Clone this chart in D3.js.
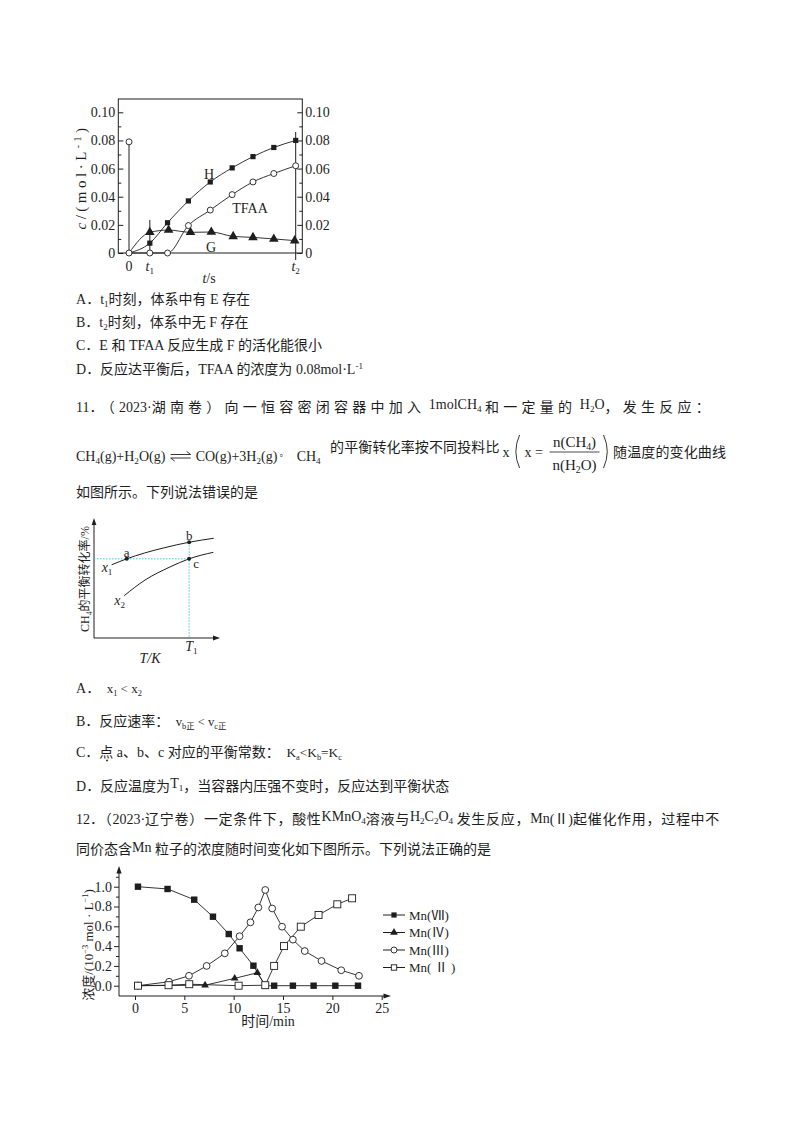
<!DOCTYPE html>
<html>
<head>
<meta charset="utf-8">
<title>chem charts</title>
<script src="https://cdn.jsdelivr.net/npm/d3@7"></script>
<style>
  body { margin: 0; background: #fff; }
  svg { display: block; }
  text { font-family: "Liberation Serif", "Noto Sans CJK SC", serif; fill: #1e1e1e; white-space: pre; }
</style>
</head>
<body>
<svg id="page" width="800" height="1132"></svg>
<script>
// ---- figure 1: c of H, TFAA, G against t ----
const fig1Time = [0, 1, 1.85, 2.85, 3.9, 4.95, 5.95, 6.95, 8];
const fig1H    = [0, 0.007, 0.0215, 0.037, 0.0505, 0.0605, 0.0685, 0.075, 0.080];
const fig1TFAA = [0, 0, 0, 0.0195, 0.0305, 0.0415, 0.0505, 0.0565, 0.062];
const fig1TFAAStart = 0.079;
const fig1GTime = [0, 1, 1.9, 2.95, 3.95, 5, 5.95, 6.95, 7.95];
const fig1G     = [0, 0.0147, 0.0163, 0.0147, 0.0149, 0.0118, 0.0111, 0.0100, 0.0088];
const fig1Ticks = [0, 0.02, 0.04, 0.06, 0.08, 0.10];
const fig1TickLabels = ['0', '0.02', '0.04', '0.06', '0.08', '0.10'];
const fig1MinorTicks = [0.01, 0.03, 0.05, 0.07, 0.09];
const fig1TimeTicks = [0, 1, 8];
const fig1TimeLabels = ['0', 't1', 't2'];
const fig1T1Bar = 0.0235, fig1T2Bar = 0.086;

// ---- figure 2: CH4 conversion against T ----
const fig2TempX1 = [1.4, 2.6, 4.0, 5.5, 7.55, 9.5];
const fig2ConvX1 = [6.1, 6.6, 7.08, 7.5, 7.98, 8.31];
const fig2TempX2 = [2.4, 4.05, 6.03, 7.55, 9.47];
const fig2ConvX2 = [3.53, 4.83, 5.92, 6.6, 7.14];
const fig2PointNames = ['a', 'b', 'c'];
const fig2PointTemp = [2.6, 7.55, 7.55];
const fig2PointConv = [6.6, 7.98, 6.6];
const fig2T1 = 7.55;

// ---- figure 3: Mn species against time/min ----
const mn7Time = [0.3, 3.3, 6.0, 7.9, 9.5, 10.6, 12.0, 13.2, 14.1, 16.0, 18.1, 20.3, 22.6];
const mn7Conc = [1.0, 0.977, 0.869, 0.697, 0.522, 0.378, 0.202, 0, 0, 0, 0, 0, 0];
const mn4Time = [0.3, 7.1, 10.1, 12.4, 13.2];
const mn4Conc = [0, 0.005, 0.074, 0.131, 0];
const mn3Time = [0.3, 3.45, 5.47, 7.26, 9.1, 10.6, 11.7, 12.5, 13.2, 13.9, 14.9, 16.0, 17.2, 18.9, 20.9, 22.7];
const mn3Conc = [0, 0.04, 0.10, 0.20, 0.327, 0.50, 0.64, 0.79, 0.967, 0.78, 0.596, 0.465, 0.35, 0.25, 0.156, 0.10];
const mn2Time = [0.3, 3.4, 5.5, 10.5, 13.2, 14.1, 15.1, 16.8, 18.6, 20.5, 22.0];
const mn2Conc = [0, 0.005, 0.015, 0, 0.005, 0.20, 0.40, 0.596, 0.714, 0.822, 0.883];
const fig3YTicks = [0, 0.2, 0.4, 0.6, 0.8, 1.0];
const fig3XTicks = [0, 5, 10, 15, 20, 25];
const fig3Legend = ['Mn(Ⅶ)', 'Mn(Ⅳ)', 'Mn(Ⅲ)', 'Mn( Ⅱ )'];

const INK = '#1e1e1e';
const X0 = 76;   // left text margin
const svg = d3.select('#page');
const CJK_RUN = /([\u3000-\u9fff\uff00-\uffef]+)/;
const CJK = /^[\u3000-\u9fff\uff00-\uffef]+$/;

// text with sub/superscripts: parts are strings or [text, dy, scale, italic]
// each part is split in Chinese / Latin runs so spacing can be set on the Chinese only
function rich(parent, x, y, parts, size = 14) {
    const t = parent.append('text').attr('x', x).attr('y', y).style('font-size', size + 'px');
    let cur = 0;
    for (let p of parts) {
        if (typeof p === 'string') p = [p];
        const [s, dy = 0, scale = 1, it = false] = p;
        s.split(CJK_RUN).filter(r => r.length).forEach((r, k) => {
            t.append('tspan').text(r)
                .attr('dy', k === 0 ? dy - cur : 0)
                .style('font-size', (size * scale) + 'px')
                .style('font-style', it ? 'italic' : null);
        });
        cur = dy;
    }
    return t;
}

// stretch a line to a width by spacing its Chinese characters only
function justify(t, width) {
    const natural = t.node().getComputedTextLength();
    const spans = t.selectAll('tspan').filter(function () { return CJK.test(this.textContent); });
    let n = 0;
    spans.each(function () { n += this.textContent.length; });
    if (n > 0 && width > natural) spans.style('letter-spacing', ((width - natural) / n) + 'px');
    return t;
}

function vlabel(x, y, parts, size, spacing) {
    const g = svg.append('g').attr('transform', `translate(${x},${y}) rotate(-90)`);
    rich(g, 0, 0, parts, size).attr('text-anchor', 'middle').style('letter-spacing', spacing ? spacing + 'px' : null);
}

function tidyAxis(g, size) {
    g.select('.domain').remove();
    g.selectAll('line').attr('stroke', INK);
    g.selectAll('text').attr('fill', INK).style('font-size', size + 'px');
}

function marker(g, kind, x, y) {
    const sq = (s, filled) => g.append('rect').attr('x', x - s / 2).attr('y', y - s / 2)
        .attr('width', s).attr('height', s)
        .attr('fill', filled ? INK : '#fff').attr('stroke', filled ? null : INK).attr('stroke-width', 0.9);
    const ci = r => g.append('circle').attr('cx', x).attr('cy', y).attr('r', r)
        .attr('fill', '#fff').attr('stroke', INK).attr('stroke-width', 0.9);
    const tri = a => g.append('path').attr('d', d3.symbol(d3.symbolTriangle).size(a)())
        .attr('transform', `translate(${x},${y})`).attr('fill', INK);
    switch (kind) {
        case 'square': return sq(6.4, true);
        case 'smallsquare': return sq(5.2, true);
        case 'osquare': return sq(7, false);
        case 'smallosquare': return sq(5.4, false);
        case 'circle': return ci(3.4);
        case 'smallcircle': return ci(3);
        case 'bigtri': return tri(40);
        default: return tri(26);
    }
}

// ================= question 10 figure =================
const f1x = d3.scaleLinear().domain([0, 8]).range([129, 295.7]);
const f1y = d3.scaleLinear().domain([0, 0.1]).range([253, 112.3]);
const f1Left = 118.3, f1Right = 302.3, f1Top = 99;
const f1 = svg.append('g');

f1.append('rect').attr('x', f1Left).attr('y', f1Top)
    .attr('width', f1Right - f1Left).attr('height', f1y(0) - f1Top)
    .attr('fill', 'none').attr('stroke', INK).attr('stroke-width', 1);

[[d3.axisLeft, f1Left], [d3.axisRight, f1Right]].forEach(([axis, ax]) => {
    f1.append('g').attr('transform', `translate(${ax},0)`)
        .call(axis(f1y).tickValues(fig1MinorTicks).tickSize(-3).tickFormat(''))
        .call(g => tidyAxis(g, 14));
    f1.append('g').attr('transform', `translate(${ax},0)`)
        .call(axis(f1y).tickValues(fig1Ticks).tickSize(-5).tickPadding(3)
            .tickFormat((d, i) => fig1TickLabels[i]))
        .call(g => tidyAxis(g, 14));
});

// vertical marks at 0, t1, t2
f1.append('line').attr('x1', f1x(0)).attr('x2', f1x(0)).attr('y1', f1y(fig1TFAAStart)).attr('y2', f1y(0))
    .attr('stroke', INK);
f1.append('line').attr('x1', f1x(1)).attr('x2', f1x(1)).attr('y1', f1y(fig1T1Bar)).attr('y2', f1y(0))
    .attr('stroke', INK);
f1.append('line').attr('x1', f1x(8)).attr('x2', f1x(8)).attr('y1', f1y(fig1T2Bar)).attr('y2', f1y(0) + 7)
    .attr('stroke', INK);

const line1 = d3.line().x(d => f1x(d[0])).y(d => f1y(d[1])).curve(d3.curveMonotoneX);
const hPts = fig1Time.map((t, i) => [t, fig1H[i]]);
const tfaaPts = fig1Time.map((t, i) => [t, fig1TFAA[i]]);
const gPts = fig1GTime.map((t, i) => [t, fig1G[i]]);
[hPts, tfaaPts, gPts].forEach(pts => {
    f1.append('path').attr('d', line1(pts)).attr('fill', 'none').attr('stroke', INK).attr('stroke-width', 0.9);
});
gPts.slice(1).forEach(p => marker(f1, 'bigtri', f1x(p[0]), f1y(p[1])));
hPts.slice(1).forEach(p => marker(f1, 'smallsquare', f1x(p[0]), f1y(p[1])));
tfaaPts.forEach(p => marker(f1, 'smallcircle', f1x(p[0]), f1y(p[1])));
marker(f1, 'smallcircle', f1x(0), f1y(fig1TFAAStart));

rich(f1, 209, 179, ['H']).attr('text-anchor', 'middle');
rich(f1, 250, 213, ['TFAA']).attr('text-anchor', 'middle');
rich(f1, 211, 252, ['G']).attr('text-anchor', 'middle');

fig1TimeTicks.forEach((t, i) => {
    const s = fig1TimeLabels[i];
    const parts = s.length > 1 ? [[s[0], 0, 1, true], [s.slice(1), 3, 0.65]] : [s];
    rich(f1, f1x(t), 271, parts).attr('text-anchor', 'middle');
});
rich(f1, 209, 283, [['t', 0, 1, true], '/s']).attr('text-anchor', 'middle');
vlabel(86, 177, [['c', 0, 1, true], '/(mol·L', ['-1', -5, 0.65], ')'], 15, 3.5);

// ================= question 10 options =================
rich(svg, X0, 304, ['A．t', ['1', 3, 0.65], '时刻，体系中有 E 存在']);
rich(svg, X0, 327, ['B．t', ['2', 3, 0.65], '时刻，体系中无 F 存在']);
rich(svg, X0, 350, ['C．E 和 TFAA 反应生成 F 的活化能很小']);
rich(svg, X0, 374, ['D．反应达平衡后，TFAA 的浓度为 0.08mol·L', ['-1', -5, 0.65]]);

// ================= question 11 =================
justify(rich(svg, X0, 412, ['11．（2023·湖南卷）向一恒容密闭容器中加入', ' ', ['1molCH', -3], ['4', 0, 0.65],
    ' ', '和一定量的', ' ', ['H', -3], ['2', 0, 0.65], ['O', -3], '，发生反应：']), 714 - X0);

// equation line laid out piece by piece
const eqY = 461;
const eqRow = svg.append('g');
const eqPieces = [];
const eqGaps = [5, 5, 2, 9, 9, 3, 5, 7];
function piece(fn) { const g = eqRow.append('g'); const t = fn(g); eqPieces.push([g, t]); }

piece(g => rich(g, 0, 0, ['CH', ['4', 3, 0.65], '(g)+H', ['2', 3, 0.65], 'O(g)']));
piece(g => {
    g.append('path').attr('d', 'M0,-6.5H20l-4,-3 M20,-3H0l4,3')
        .attr('fill', 'none').attr('stroke', INK).attr('stroke-width', 0.9);
});
piece(g => rich(g, 0, 0, ['CO(g)+3H', ['2', 3, 0.65], '(g)']));
piece(g => rich(g, 0, -5, ['。'], 8));
piece(g => rich(g, 0, 0, ['CH', ['4', 3, 0.65]]));
piece(g => rich(g, 0, -9, ['的平衡转化率按不同投料比']));
piece(g => rich(g, 0, -4, ['x']));
piece(g => {
    const paren = (x, dir) => `M${x + 5 * dir},-26 Q${x - 2.5 * dir},-9.5 ${x + 5 * dir},7`;
    g.append('path').attr('d', paren(0, 1)).attr('fill', 'none').attr('stroke', INK).attr('stroke-width', 0.9);
    const xe = rich(g, 10, -4, ['x = ']);
    const fx = 10 + xe.node().getComputedTextLength() + 3;
    const num = rich(g, fx, -14, ['n(CH', ['4', 3, 0.65], ')'], 15);
    const den = rich(g, fx, 9, ['n(H', ['2', 3, 0.65], 'O)'], 15);
    const fw = Math.max(num.node().getComputedTextLength(), den.node().getComputedTextLength()) + 6;
    num.attr('x', fx + (fw - num.node().getComputedTextLength()) / 2);
    den.attr('x', fx + (fw - den.node().getComputedTextLength()) / 2);
    g.append('line').attr('x1', fx).attr('x2', fx + fw).attr('y1', -9).attr('y2', -9)
        .attr('stroke', INK).attr('stroke-width', 0.8);
    g.append('path').attr('d', paren(fx + fw + 9, -1)).attr('fill', 'none').attr('stroke', INK).attr('stroke-width', 0.9);
});
piece(g => rich(g, 0, -4, ['随温度的变化曲线']));

// spread the remaining width over the Chinese characters of the line
{
    const widths = eqPieces.map(([g]) => g.node().getBBox().width);
    const natural = d3.sum(widths) + d3.sum(eqGaps);
    const cjkPieces = [eqPieces[5][1], eqPieces[8][1]];
    const nChars = d3.sum(cjkPieces, t => t.text().length);
    const ls = Math.max(0, (726 - X0 - natural) / nChars);
    cjkPieces.forEach(t => t.style('letter-spacing', ls + 'px'));
    let eqX = X0;
    eqPieces.forEach(([g], i) => {
        g.attr('transform', `translate(${eqX},${eqY})`);
        eqX += g.node().getBBox().width + (eqGaps[i] || 0);
    });
}

rich(svg, X0, 497, ['如图所示。下列说法错误的是']);

// ================= question 11 figure =================
const f2x = d3.scaleLinear().domain([0, 10]).range([94, 220]);
const f2y = d3.scaleLinear().domain([0, 10]).range([638, 518]);
const f2 = svg.append('g');
f2.append('line').attr('x1', f2x(0)).attr('x2', f2x(0)).attr('y1', f2y(0)).attr('y2', f2y(10) + 4)
    .attr('stroke', INK);
f2.append('path').attr('d', `M${f2x(0)},${f2y(10)}l-2.4,7h4.8z`).attr('fill', INK);
f2.append('line').attr('x1', f2x(0)).attr('x2', f2x(10) - 4).attr('y1', f2y(0)).attr('y2', f2y(0))
    .attr('stroke', INK);
f2.append('path').attr('d', `M${f2x(10)},${f2y(0)}l-7,-2.4v4.8z`).attr('fill', INK);

// dotted guides
f2.append('line').attr('x1', f2x(0)).attr('x2', f2x(fig2T1)).attr('y1', f2y(fig2PointConv[0])).attr('y2', f2y(fig2PointConv[0]))
    .attr('stroke', '#4cc3df').attr('stroke-width', 1).attr('stroke-dasharray', '1.5,1.5');
f2.append('line').attr('x1', f2x(fig2T1)).attr('x2', f2x(fig2T1)).attr('y1', f2y(fig2PointConv[1])).attr('y2', f2y(0))
    .attr('stroke', '#4cc3df').attr('stroke-width', 1).attr('stroke-dasharray', '1.5,1.5');

const line2 = d3.line().x(d => f2x(d[0])).y(d => f2y(d[1])).curve(d3.curveMonotoneX);
f2.append('path').attr('d', line2(fig2TempX1.map((t, i) => [t, fig2ConvX1[i]])))
    .attr('fill', 'none').attr('stroke', INK).attr('stroke-width', 1);
f2.append('path').attr('d', line2(fig2TempX2.map((t, i) => [t, fig2ConvX2[i]])))
    .attr('fill', 'none').attr('stroke', INK).attr('stroke-width', 1);

fig2PointNames.forEach((n, i) => {
    const px = f2x(fig2PointTemp[i]), py = f2y(fig2PointConv[i]);
    f2.append('circle').attr('cx', px).attr('cy', py).attr('r', 2).attr('fill', INK);
    if (n === 'c') rich(f2, px + 4, py + 9, [n], 13);
    else rich(f2, px, py - 2, [n], 13).attr('text-anchor', 'middle');
});
rich(f2, f2x(fig2TempX1[0]) - 10, f2y(fig2ConvX1[0]) + 7, [['x', 0, 1, true], ['1', 3, 0.65]]);
rich(f2, f2x(fig2TempX2[0]) - 10, f2y(fig2ConvX2[0]) + 9, [['x', 0, 1, true], ['2', 3, 0.65]]);
rich(f2, f2x(fig2T1) - 4, 651, [['T', 0, 1, true], ['1', 3, 0.65]]);
rich(f2, 150, 663, [['T/K', 0, 1, true]]).attr('text-anchor', 'middle');
vlabel(89, 579, ['CH', ['4', 3, 0.65], '的平衡转化率/%'], 12);

// ================= question 11 options =================
rich(svg, X0, 693, ['A．', ['  x', 0, 0.93], ['1', 3, 0.6], [' < x', 0, 0.93], ['2', 3, 0.6]]);
rich(svg, X0, 726, ['B．反应速率：', ['  v', 0, 0.9], ['b正', 3, 0.6], [' < v', 0, 0.9], ['c正', 3, 0.6]]);
rich(svg, X0, 757, ['C．点 a、b、c 对应的平衡常数：', ['  K', 0, 0.95], ['a', 3, 0.6],
    ['<K', 0, 0.95], ['b', 3, 0.6], ['=K', 0, 0.95], ['c', 3, 0.6]]);
svg.append('circle').attr('cx', X0 + 31).attr('cy', 760.5).attr('r', 0.9).attr('fill', INK);
rich(svg, X0, 791, ['D．反应温度为', ['T', -3], ['1', 0, 0.65], '，当容器内压强不变时，反应达到平衡状态']);

// ================= question 12 =================
justify(rich(svg, X0, 824, ['12．（2023·辽宁卷）一定条件下，酸性', ['KMnO', -3], ['4', 0, 0.65], '溶液与',
    ['H', -3], ['2', 0, 0.65], ['C', -3], ['2', 0, 0.65], ['O', -3], ['4', 0, 0.65],
    ' 发生反应，', ['Mn', -1], '(Ⅱ)起催化作用，过程中不']), 720 - X0);
rich(svg, X0, 854, ['同价态含', ['Mn', -2], ' 粒子的浓度随时间变化如下图所示。下列说法正确的是']);

// ================= question 12 figure =================
const f3x = d3.scaleLinear().domain([0, 25]).range([135, 381.7]);
const f3y = d3.scaleLinear().domain([0, 1]).range([985.7, 886.7]);
const f3AxisX = 119, f3AxisY = 996;
const f3 = svg.append('g');

f3.append('line').attr('x1', f3AxisX).attr('x2', f3AxisX).attr('y1', f3AxisY).attr('y2', 871).attr('stroke', INK);
f3.append('path').attr('d', `M${f3AxisX},866l-2.6,7.5h5.2z`).attr('fill', INK);
f3.append('line').attr('x1', f3AxisX).attr('x2', 386).attr('y1', f3AxisY).attr('y2', f3AxisY).attr('stroke', INK);
f3.append('path').attr('d', `M391,${f3AxisY}l-7.5,-2.6v5.2z`).attr('fill', INK);

f3.append('g').attr('transform', `translate(${f3AxisX},0)`)
    .call(d3.axisLeft(f3y).tickValues(fig3YTicks).tickSize(5).tickPadding(2).tickFormat(d3.format('.1f')))
    .call(g => tidyAxis(g, 14));
f3.append('g').attr('transform', `translate(${f3AxisX},0)`)
    .call(d3.axisLeft(f3y).tickValues([0.1, 0.3, 0.5, 0.7, 0.9, 1.1]).tickSize(3).tickFormat(''))
    .call(g => tidyAxis(g, 14));
f3.append('g').attr('transform', `translate(0,${f3AxisY})`)
    .call(d3.axisBottom(f3x).tickValues(fig3XTicks).tickSize(4).tickPadding(3))
    .call(g => tidyAxis(g, 14));
rich(f3, 268, 1026, ['时间/min']).attr('text-anchor', 'middle');
vlabel(93, 945, ['浓度/(10', ['−3', -5, 0.65], ' mol · L', ['−1', -5, 0.65], ')'], 13);

const line3 = d3.line().x(d => f3x(d[0])).y(d => f3y(d[1]));
const series3 = [
    [mn7Time, mn7Conc, 'square', 'smallsquare'],
    [mn4Time, mn4Conc, 'tri', 'tri'],
    [mn3Time, mn3Conc, 'circle', 'smallcircle'],
    [mn2Time, mn2Conc, 'osquare', 'smallosquare']
];
series3.forEach(([ts, cs]) => {
    f3.append('path').attr('d', line3(ts.map((t, i) => [t, cs[i]])))
        .attr('fill', 'none').attr('stroke', INK).attr('stroke-width', 0.9);
});
series3.forEach(([ts, cs, kind]) => {
    ts.forEach((t, i) => marker(f3, kind, f3x(t), f3y(cs[i])));
});

// legend
fig3Legend.forEach((name, i) => {
    const ly = 915 + i * 17.5;
    f3.append('line').attr('x1', 383).attr('x2', 405).attr('y1', ly).attr('y2', ly).attr('stroke', INK);
    marker(f3, series3[i][3], 394, ly);
    rich(f3, 409, ly + 4.5, [name], 13);
});
</script>
</body>
</html>
